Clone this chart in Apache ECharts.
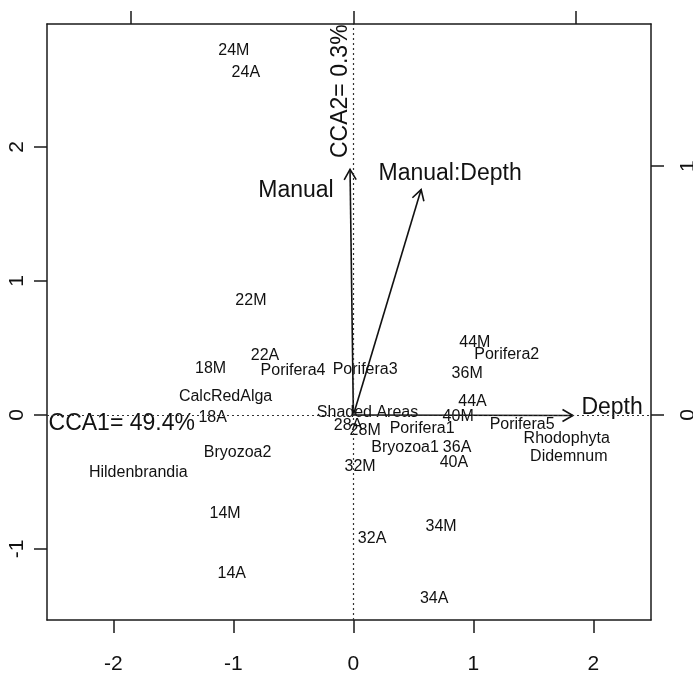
<!DOCTYPE html>
<html>
<head>
<meta charset="utf-8">
<script src="https://cdn.jsdelivr.net/npm/echarts@6/dist/echarts.min.js"></script>
<style>
  html, body { margin: 0; padding: 0; background: #fff; }
  #chart { width: 693px; height: 675px; }
</style>
</head>
<body>
<div id="chart"></div>
<script>
// site scores (CCA1, CCA2)
var sites = ['24M', '24A', '22M', '22A', '18M', '18A', '14M', '14A', '28A', '28M',
  '32M', '32A', '34M', '34A', '36M', '36A', '40M', '40A', '44M', '44A'];
var siteX = [-0.996, -0.896, -0.854, -0.736, -1.19, -1.173, -1.069, -1.013, -0.044, 0.098,
  0.056, 0.156, 0.731, 0.673, 0.948, 0.864, 0.873, 0.838, 1.012, 0.993];
var siteY = [2.718, 2.558, 0.852, 0.442, 0.343, -0.019, -0.739, -1.187, -0.078, -0.119,
  -0.386, -0.925, -0.836, -1.373, 0.311, -0.243, -0.013, -0.354, 0.539, 0.099];

// species scores
var species = ['Porifera1', 'Porifera2', 'Porifera3', 'Porifera4', 'Porifera5', 'CalcRedAlga',
  'Bryozoa1', 'Bryozoa2', 'Hildenbrandia', 'Rhodophyta', 'Didemnum', 'Shaded Areas'];
var speciesX = [0.573, 1.278, 0.098, -0.503, 1.406, -1.065, 0.431, -0.965, -1.792, 1.778, 1.795, 0.118];
var speciesY = [-0.101, 0.448, 0.336, 0.328, -0.075, 0.136, -0.245, -0.284, -0.433, -0.177, -0.311, 0.015];

// biplot arrows (drawn on the top/right arrow scale)
var biplot = ['Manual', 'Manual:Depth', 'Depth'];
var biplotX = [-0.015, 0.304, 0.985];
var biplotY = [0.987, 0.906, -0.002];
// where the arrow names sit (main axes)
var biplotLabelX = [-0.478, 0.806, 2.156];
var biplotLabelY = [1.672, 1.799, 0.052];

// axis titles, written inside the plot
var cca1Title = ['CCA1= 49.4%'];
var cca1X = [-2.54];
var cca1Y = [-0.067];
var cca2Title = ['CCA2= 0.3%'];
var cca2X = [-0.104];
var cca2Y = [1.918];

// tick labels
var xTicks = [-2, -1, 0, 1, 2];
var yTicks = [-1, 0, 1, 2];
var topTicks = [-1, 0, 1];
var rightTicks = [0, 1];

var xRange = [-2.553, 2.48];
var yRange = [-1.53, 2.918];
var arrowMul = 1.857;

var FONT = '"Liberation Sans", Arial, Helvetica, sans-serif';
var INK = '#111';

function pairs(xs, ys) {
  return xs.map(function (x, i) { return [x, ys[i]]; });
}

function textSeries(names, xs, ys, size, align, rotation) {
  return {
    type: 'custom',
    silent: true,
    data: pairs(xs, ys),
    renderItem: function (params, api) {
      var p = api.coord([api.value(0), api.value(1)]);
      return {
        type: 'text',
        x: p[0],
        y: p[1],
        rotation: rotation || 0,
        style: {
          text: names[params.dataIndex],
          font: size + 'px ' + FONT,
          fill: INK,
          align: align || 'center',
          verticalAlign: 'middle'
        }
      };
    }
  };
}

var axisLine = { show: true, onZero: false, lineStyle: { color: '#1a1a1a', width: 1.5 } };
var tick = function (vals) {
  return { show: true, inside: false, length: 13, customValues: vals, lineStyle: { color: '#1a1a1a', width: 1.5 } };
};
var tickFont = { color: INK, fontSize: 21, fontFamily: FONT };

var myChart = echarts.init(document.getElementById('chart'));
var option = {
  animation: false,
  backgroundColor: '#fff',
  grid: { left: 47, right: 42, top: 24, bottom: 55, containLabel: false, outerBoundsMode: 'none' },
  xAxis: [
    {
      type: 'value', position: 'bottom', min: xRange[0], max: xRange[1],
      axisLine: axisLine, axisTick: tick(xTicks), splitLine: { show: false },
      axisLabel: Object.assign({ customValues: xTicks, margin: 34 }, tickFont)
    },
    {
      type: 'value', position: 'top',
      min: xRange[0] / arrowMul, max: xRange[1] / arrowMul,
      axisLine: axisLine, axisTick: tick(topTicks), splitLine: { show: false },
      axisLabel: { show: false, customValues: topTicks }
    }
  ],
  yAxis: [
    {
      type: 'value', position: 'left', min: yRange[0], max: yRange[1],
      axisLine: axisLine, axisTick: tick(yTicks), splitLine: { show: false },
      axisLabel: Object.assign({ customValues: yTicks, margin: 19, rotate: 90 }, tickFont)
    },
    {
      type: 'value', position: 'right',
      min: yRange[0] / arrowMul, max: yRange[1] / arrowMul,
      axisLine: axisLine, axisTick: tick(rightTicks), splitLine: { show: false },
      axisLabel: Object.assign({ customValues: rightTicks, margin: 27, rotate: 90 }, tickFont)
    }
  ],
  series: [
    {
      type: 'line',
      data: [],
      silent: true,
      markLine: {
        silent: true,
        symbol: ['none', 'none'],
        label: { show: false },
        lineStyle: { color: '#333', width: 1.2, type: [2, 3] },
        data: [{ xAxis: 0 }, { yAxis: 0 }]
      }
    },
    textSeries(sites, siteX, siteY, 16),
    textSeries(species, speciesX, speciesY, 16),
    {
      type: 'custom',
      xAxisIndex: 1,
      yAxisIndex: 1,
      silent: true,
      data: pairs(biplotX, biplotY),
      renderItem: function (params, api) {
        var o = api.coord([0, 0]);
        var t = api.coord([api.value(0), api.value(1)]);
        var ang = Math.atan2(t[1] - o[1], t[0] - o[0]);
        var L = 12, a = Math.PI / 6;
        var h1 = [t[0] - L * Math.cos(ang - a), t[1] - L * Math.sin(ang - a)];
        var h2 = [t[0] - L * Math.cos(ang + a), t[1] - L * Math.sin(ang + a)];
        return {
          type: 'group',
          children: [
            { type: 'line', shape: { x1: o[0], y1: o[1], x2: t[0], y2: t[1] }, style: { stroke: INK, lineWidth: 1.6 } },
            { type: 'polyline', shape: { points: [h1, t, h2] }, style: { stroke: INK, fill: null, lineWidth: 1.6 } }
          ]
        };
      }
    },
    textSeries(biplot, biplotLabelX, biplotLabelY, 23),
    textSeries(cca1Title, cca1X, cca1Y, 23, 'left'),
    textSeries(cca2Title, cca2X, cca2Y, 23, 'left', Math.PI / 2)
  ]
};

myChart.setOption(option);
</script>
</body>
</html>
